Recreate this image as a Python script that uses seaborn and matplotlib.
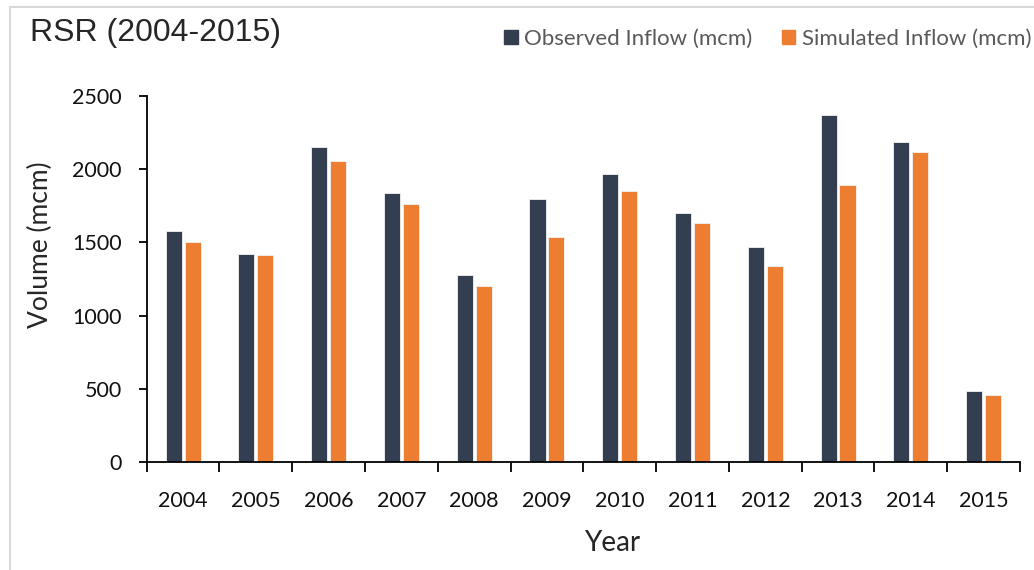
import numpy as np
import pandas as pd
import matplotlib
matplotlib.use('Agg')
import matplotlib.pyplot as plt
import seaborn as sns
from matplotlib.ticker import FixedLocator
from matplotlib.lines import Line2D

# data
years = ['2004', '2005', '2006', '2007', '2008', '2009',
         '2010', '2011', '2012', '2013', '2014', '2015']
observed = [1580, 1419, 2152, 1837, 1275, 1799, 1969, 1703, 1466, 2368, 2184, 487]
simulated = [1505, 1414, 2058, 1765, 1200, 1539, 1853, 1630, 1339, 1890, 2120, 460]
series = ['Observed Inflow (mcm)', 'Simulated Inflow (mcm)']
colors = ['#333f50', '#ed7d31']

df = pd.DataFrame({
    'Year': years * 2,
    'Volume': observed + simulated,
    'Series': [series[0]] * len(years) + [series[1]] * len(years),
})

sns.set_style('white')
plt.rcParams['font.family'] = ['Lato', 'DejaVu Sans']

W, H = 1034, 570
fig = plt.figure(figsize=(W / 100, H / 100), dpi=100)
ax = fig.add_axes([146.7 / W, 1 - 462 / H, (1020 - 146.7) / W, (462 - 96) / H])

sns.barplot(data=df, x='Year', y='Volume', hue='Series', palette=colors,
            saturation=1, width=0.52, gap=0.15, edgecolor='#f2f2f2', linewidth=0.6,
            ax=ax, legend=False)

ax.set_xlim(-0.5, len(years) - 0.5)
ax.set_ylim(0, 2500)
ax.set_yticks([0, 500, 1000, 1500, 2000, 2500])
for s in ['top', 'right']:
    ax.spines[s].set_visible(False)
for s in ['left', 'bottom']:
    ax.spines[s].set_color('#000000')
    ax.spines[s].set_linewidth(1.3)

# category boundary ticks on x
ax.xaxis.set_minor_locator(FixedLocator(np.arange(-0.5, len(years), 1.0)))
ax.tick_params(axis='x', which='major', length=0, pad=21, labelsize=15.5, labelcolor='#111111')
ax.tick_params(axis='x', which='minor', length=7, width=1.3, color='#000000', direction='out', bottom=True)
ax.tick_params(axis='y', length=6, width=1.3, color='#000000', direction='out', left=True,
               pad=12, labelsize=15.5, labelcolor='#111111')

ax.set_xlabel('Year', fontsize=20)
ax.set_ylabel('Volume (mcm)', fontsize=19)
ax.xaxis.set_label_coords((612 - 146.7) / 873.3, (462 - 530) / 366)
ax.yaxis.set_label_coords((53 - 146.7) / 873.3, (462 - 245) / 366)

fig.text(30 / W, 1 - 33 / H, 'RSR (2004-2015)', fontsize=23, va='center', ha='left',
         family='Liberation Sans')

handles = [plt.Rectangle((0, 0), 1, 1, color=c) for c in colors]
leg = fig.legend(handles, series, loc='center right', bbox_to_anchor=(1031 / W, 1 - 39 / H),
                 ncol=2, frameon=False, fontsize=16, handlelength=0.6, handleheight=0.6,
                 handletextpad=0.3, columnspacing=1.3, borderaxespad=0, borderpad=0)
for t in leg.get_texts():
    t.set_color('#595959')

# light chart border (top and left)
fig.add_artist(Line2D([10 / W, 1], [1 - 7 / H, 1 - 7 / H], color='#d9d9d9', lw=1.5))
fig.add_artist(Line2D([10 / W, 10 / W], [0, 1 - 7 / H], color='#d9d9d9', lw=1.5))

fig.savefig('out.png', dpi=100)
